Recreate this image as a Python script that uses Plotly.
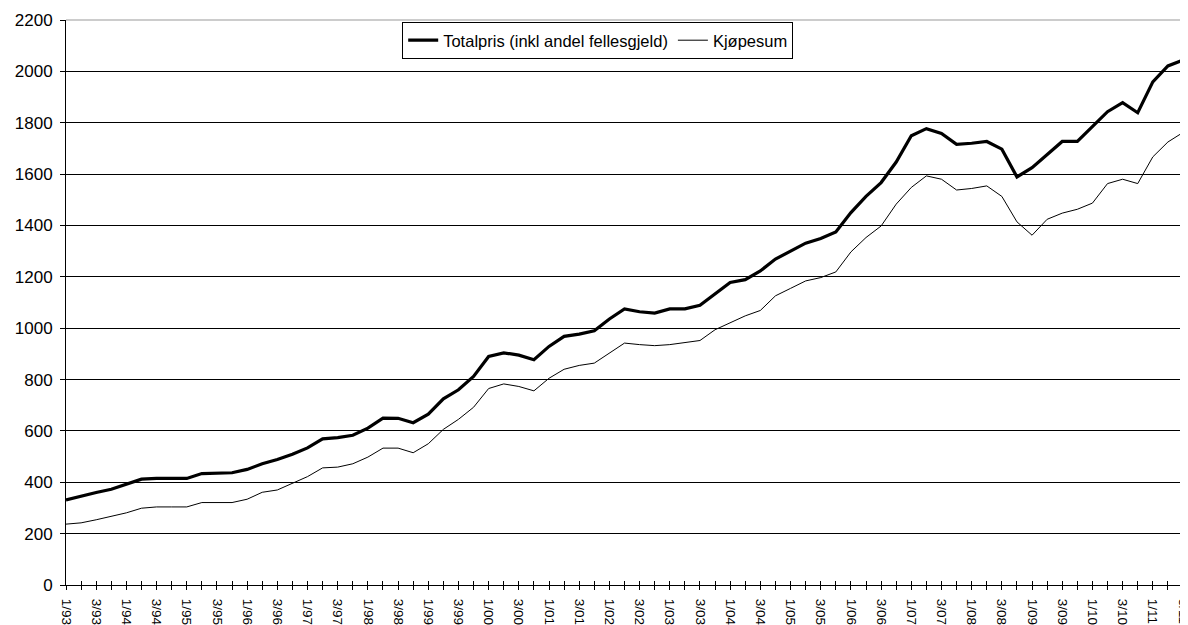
import plotly.graph_objects as go

quarters = [f"{q}/{y % 100:02d}" for y in range(1993, 2012) for q in range(1, 5)][:75]

totalpris = [331, 347, 360, 373, 392, 412, 415, 415, 415, 434, 434, 437, 450, 472, 489,
             509, 534, 569, 574, 583, 611, 650, 649, 632, 665, 725, 760, 812, 890, 904,
             895, 877, 929, 968, 977, 990, 1036, 1075, 1064, 1059, 1075, 1075, 1089, 1132, 1178,
             1189, 1223, 1269, 1299, 1331, 1349, 1375, 1450, 1513, 1567, 1647, 1749, 1777, 1758, 1716,
             1720, 1727, 1697, 1589, 1625, 1677, 1727, 1727, 1785, 1843, 1878, 1839, 1959, 2021, 2044]

kjopesum = [237, 242, 254, 268, 281, 299, 304, 304, 304, 321, 321, 321, 334, 361, 370,
            395, 422, 456, 459, 472, 498, 533, 533, 515, 550, 606, 645, 692, 765, 783,
            773, 756, 805, 840, 855, 864, 903, 942, 936, 932, 936, 943, 952, 994, 1022,
            1048, 1069, 1126, 1155, 1184, 1197, 1219, 1297, 1353, 1398, 1483, 1548, 1593, 1580, 1538,
            1544, 1554, 1513, 1414, 1362, 1424, 1448, 1463, 1487, 1563, 1580, 1563, 1667, 1725, 1762]

idx = list(range(len(quarters)))
ticktext = [q if i % 2 == 0 else "" for i, q in enumerate(quarters)]

FONT = "Liberation Sans, Arial, sans-serif"

fig = go.Figure()
fig.add_trace(go.Scatter(x=idx, y=totalpris, mode="lines", name="Totalpris (inkl andel fellesgjeld)",
                         line=dict(color="black", width=3.2)))
fig.add_trace(go.Scatter(x=idx, y=kjopesum, mode="lines", name="Kjøpesum",
                         line=dict(color="black", width=1)))
# overlay axis for crossing tick marks
fig.add_trace(go.Scatter(x=[0], y=[0], xaxis="x2", mode="markers", marker=dict(opacity=0),
                         showlegend=False, hoverinfo="skip"))

# page body has an 8px default margin, so the figure is sized/offset to compensate
fig.update_layout(
    width=1180, height=617,
    margin=dict(l=58, r=5, t=12, b=40),
    paper_bgcolor="white", plot_bgcolor="white",
    font=dict(family=FONT, color="black", size=13),
    showlegend=True,
    legend=dict(orientation="h", x=0.476, xanchor="center", y=0.9965, yanchor="top",
                bordercolor="black", borderwidth=1, bgcolor="white",
                font=dict(family=FONT, size=16.5), tracegroupgap=0),
    xaxis=dict(range=[0, 74], tickmode="array", tickvals=idx, ticktext=ticktext,
               tickangle=90, ticks="outside", ticklen=4, tickcolor="black", automargin=False,
               ticklabelstandoff=6, ticklabeloverflow="allow",
               showline=True, linecolor="black", linewidth=1, showgrid=False, zeroline=False,
               tickfont=dict(family=FONT, size=13.5)),
    xaxis2=dict(range=[0, 74], overlaying="x", tickmode="array", tickvals=idx, automargin=False,
                ticktext=["" for _ in idx], ticks="inside", ticklen=4, tickcolor="black",
                showline=False, showgrid=False, zeroline=False, side="bottom"),
    yaxis=dict(range=[0, 2200], dtick=200, ticks="outside", ticklen=5, tickcolor="black",
               showline=True, linecolor="black", linewidth=1, automargin=False,
               ticklabelstandoff=4,
               showgrid=True, gridcolor="black", gridwidth=1, zeroline=False,
               tickfont=dict(family=FONT, size=17)),
    shapes=[dict(type="line", xref="paper", yref="paper", x0=1, x1=1, y0=0, y1=1,
                 line=dict(color="#999999", width=1)),
            dict(type="line", xref="paper", yref="paper", x0=0, x1=1, y0=1, y1=1,
                 line=dict(color="#999999", width=1))],
)

fig.write_html("out.html")
